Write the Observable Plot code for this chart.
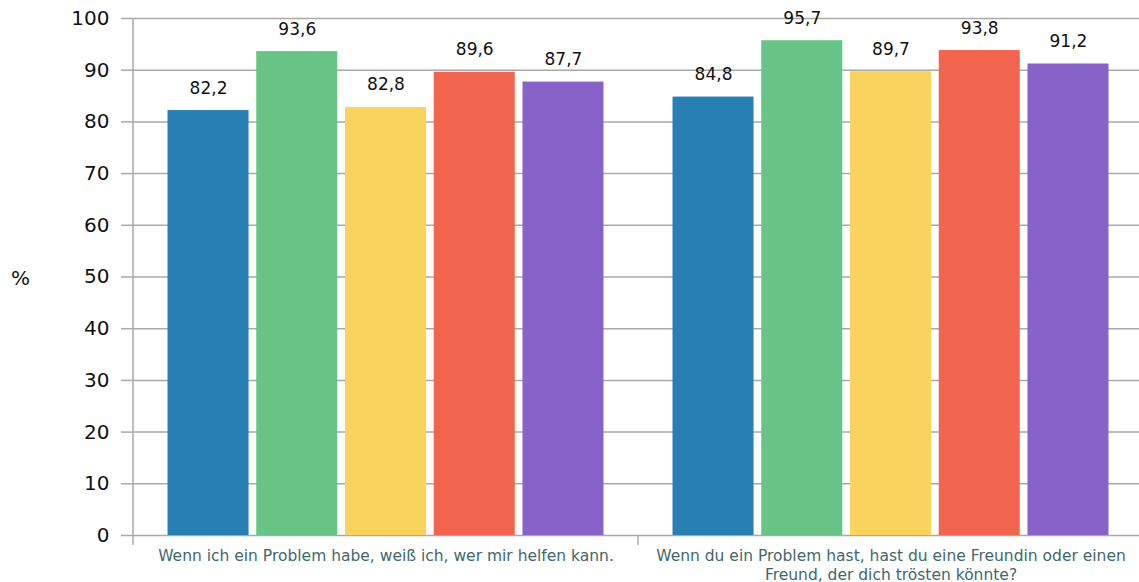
<!DOCTYPE html>
<html>
<head>
<meta charset="utf-8">
<script src="https://cdn.jsdelivr.net/npm/d3@7"></script>
<script src="https://cdn.jsdelivr.net/npm/@observablehq/plot@0.6"></script>
<style>
  html, body { margin: 0; padding: 0; background: #fff; overflow: hidden; }
  #wrap { position: relative; width: 1139px; height: 582px; overflow: hidden; }
  #unit { position: absolute; left: 11px; top: 268px; font: 20px/20px "DejaVu Sans", sans-serif; color: #111; }
  svg { display: block; max-width: none !important; }
</style>
</head>
<body>
<div id="wrap"><div id="unit">%</div></div>
<script>
const groups = [
  "Wenn ich ein Problem habe, weiß ich, wer mir helfen kann.",
  "Wenn du ein Problem hast, hast du eine Freundin oder einen Freund, der dich trösten könnte?"
];
// tick labels as they are broken in the reference
const groupTickLabels = [
  "Wenn ich ein Problem habe, weiß ich, wer mir helfen kann.",
  "Wenn du ein Problem hast, hast du eine Freundin oder einen\nFreund, der dich trösten könnte?"
];
const series = ["Serie 1", "Serie 2", "Serie 3", "Serie 4", "Serie 5"];
const valuesGroup1 = [82.2, 93.6, 82.8, 89.6, 87.7];
const valuesGroup2 = [84.8, 95.7, 89.7, 93.8, 91.2];
const colors = ["#277fb3", "#68c386", "#f8d45e", "#f1644d", "#8662c9"];
const yTicks = [0, 10, 20, 30, 40, 50, 60, 70, 80, 90, 100];

const data = [];
series.forEach((s, i) => data.push({group: groups[0], series: s, value: valuesGroup1[i]}));
series.forEach((s, i) => data.push({group: groups[1], series: s, value: valuesGroup2[i]}));

const fmt = v => d3.format(".1f")(v).replace(".", ",");
const gridColor = "#a9a9a9";

const plot = Plot.plot({
  width: 1143,
  height: 582,
  marginLeft: 133,
  marginRight: 0,
  marginTop: 18,
  marginBottom: 47,
  style: {fontFamily: "DejaVu Sans", background: "white", overflow: "visible", maxWidth: "none"},
  fx: {domain: groups, padding: 0, round: false, label: null},
  x: {domain: series, paddingInner: 0.087, paddingOuter: 0.389, round: false, axis: null},
  y: {domain: [0, 100], label: null},
  color: {domain: series, range: colors},
  marks: [
    Plot.ruleY(yTicks, {stroke: gridColor, strokeWidth: 1.5}),
    Plot.axisY({ticks: yTicks, tickSize: 12, tickPadding: 12, fontSize: 20, stroke: gridColor, strokeWidth: 1.5, fill: "#111", label: null}),
    Plot.barY(data, {fx: "group", x: "series", y: "value", fill: "series"}),
    Plot.text(data, {fx: "group", x: "series", y: "value", text: d => fmt(d.value), dy: -17, lineAnchor: "bottom", fontSize: 17, fill: "#111"}),
    Plot.axisFx({anchor: "bottom", tickSize: 0, tickPadding: 11.7, fontSize: 15.5, lineHeight: 1.23, fill: "#41676a", label: null,
      tickFormat: d => groupTickLabels[groups.indexOf(d)]})
  ]
});

document.getElementById("wrap").appendChild(plot);

// axis line and group-boundary ticks placed through Plot's own scales
const fx = plot.scale("fx");
const y = plot.scale("y");
const svg = d3.select(plot);
const x0 = fx.apply(groups[0]);
svg.append("line")
  .attr("x1", x0).attr("x2", x0)
  .attr("y1", y.apply(100)).attr("y2", y.apply(0) + 10)
  .attr("stroke", gridColor).attr("stroke-width", 1.5);
groups.slice(1).forEach(g => {
  const gx = fx.apply(g);
  svg.append("line")
    .attr("x1", gx).attr("x2", gx)
    .attr("y1", y.apply(0)).attr("y2", y.apply(0) + 10)
    .attr("stroke", gridColor).attr("stroke-width", 1.5);
});
</script>
</body>
</html>
